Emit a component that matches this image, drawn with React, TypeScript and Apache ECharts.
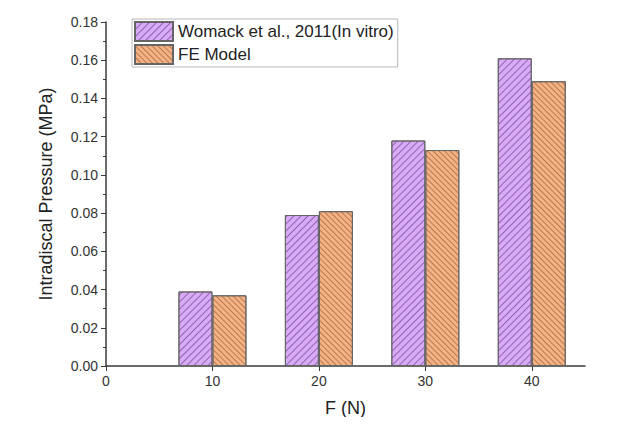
import React, { useEffect, useRef } from "react";
import * as echarts from "echarts";

// Load on the intervertebral disc versus measured / simulated pressure
const forces = [10, 20, 30, 40];
const womackInVitro = [0.039, 0.079, 0.118, 0.161];
const feModel = [0.037, 0.081, 0.113, 0.149];
const seriesNames = ["Womack et al., 2011(In vitro)", "FE Model"];
const xTitle = "F (N)";
const yTitle = "Intradiscal Pressure (MPa)";

export default function App() {
  const ref = useRef<HTMLDivElement>(null);

  useEffect(() => {
    if (!ref.current) return;
    const chart = echarts.init(ref.current, null, { renderer: "svg" });
    const font = "Liberation Sans, Arial, sans-serif";
    const axisColor = "#3a3a3a";

    chart.setOption({
      animation: false,
      backgroundColor: "#ffffff",
      textStyle: { fontFamily: font },
      grid: { left: 106, right: 46, top: 22, bottom: 59, containLabel: false },
      legend: {
        left: 132,
        top: 19,
        orient: "vertical",
        icon: "rect",
        itemWidth: 38,
        itemHeight: 19,
        itemGap: 2,
        padding: [2, 4, 2, 2],
        borderColor: "#b8b8b8",
        borderWidth: 1,
        backgroundColor: "#ffffff",
        textStyle: { fontSize: 17, color: "#222", fontFamily: font },
        data: seriesNames,
      },
      xAxis: {
        type: "value",
        min: 0,
        max: 45,
        interval: 10,
        name: xTitle,
        nameLocation: "middle",
        nameGap: 33,
        nameTextStyle: { fontSize: 18, color: "#222" },
        splitLine: { show: false },
        axisLine: { lineStyle: { color: axisColor, width: 1.5 } },
        axisTick: { inside: false, length: 5, lineStyle: { color: axisColor } },
        axisLabel: {
          fontSize: 14,
          color: "#333",
          margin: 8,
          showMaxLabel: false,
          formatter: (v: number) => String(v),
        },
      },
      yAxis: {
        type: "value",
        min: 0,
        max: 0.18,
        interval: 0.02,
        name: yTitle,
        nameLocation: "middle",
        nameGap: 51,
        nameTextStyle: { fontSize: 18, color: "#222" },
        splitLine: { show: false },
        axisLine: { show: true, lineStyle: { color: axisColor, width: 1.5 } },
        axisTick: { show: true, inside: false, length: 5, lineStyle: { color: axisColor } },
        minorTick: { show: true, splitNumber: 2, length: 3, lineStyle: { color: axisColor } },
        axisLabel: {
          fontSize: 14,
          color: "#333",
          margin: 8,
          formatter: (v: number) => v.toFixed(2),
        },
      },
      series: [
        {
          name: seriesNames[0],
          type: "bar",
          barWidth: 34,
          barGap: "0%",
          data: forces.map((f, i) => [f, womackInVitro[i]]),
          itemStyle: {
            color: "#d9abf7",
            borderColor: "#666",
            borderWidth: 1,
            decal: {
              symbol: "rect",
              symbolSize: 1,
              color: "rgba(105, 60, 145, 0.65)",
              dashArrayX: [1, 0],
              dashArrayY: [1, 4],
              rotation: -Math.PI / 4,
            },
          },
        },
        {
          name: seriesNames[1],
          type: "bar",
          barWidth: 34,
          barGap: "0%",
          data: forces.map((f, i) => [f, feModel[i]]),
          itemStyle: {
            color: "#f4b386",
            borderColor: "#666",
            borderWidth: 1,
            decal: {
              symbol: "rect",
              symbolSize: 1,
              color: "rgba(150, 80, 35, 0.6)",
              dashArrayX: [1, 0],
              dashArrayY: [1, 3],
              rotation: Math.PI / 4,
            },
          },
        },
      ],
    });

    return () => chart.dispose();
  }, []);

  return <div ref={ref} style={{ width: 631, height: 425, margin: -8 }} />;
}
